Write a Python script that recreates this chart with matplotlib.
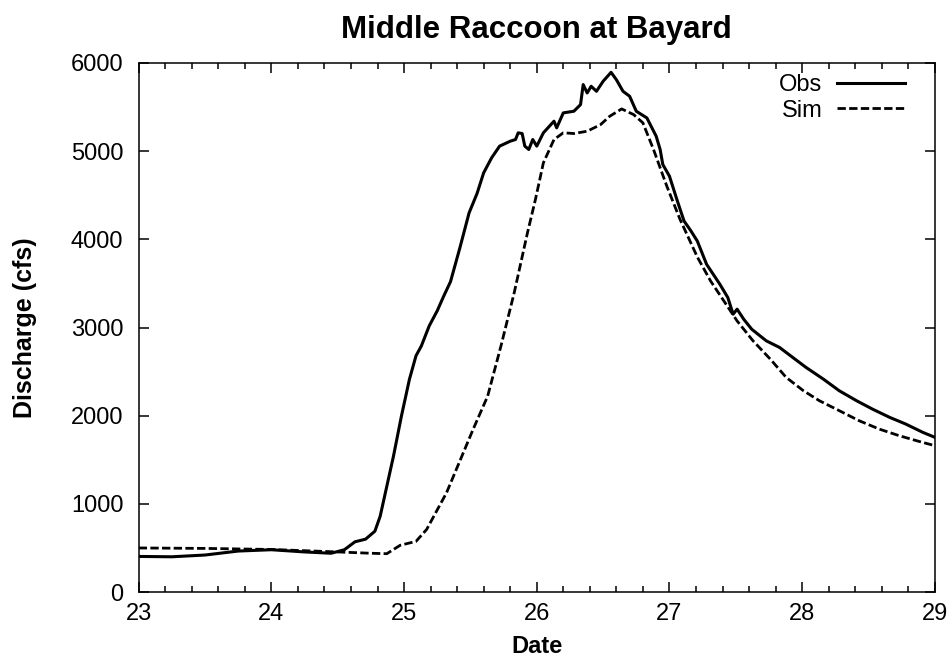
import numpy as np
import matplotlib
matplotlib.use("Agg")
import matplotlib.pyplot as plt
from matplotlib.ticker import MultipleLocator

plt.rcParams["font.family"] = ["Liberation Sans", "DejaVu Sans"]

# observed discharge (day of month, cfs)
obs_day = [23.0, 23.25, 23.5, 23.75, 24.0, 24.25, 24.45, 24.55, 24.63, 24.71,
           24.78, 24.82, 24.87, 24.92, 24.98, 25.04, 25.09, 25.13, 25.19, 25.25,
           25.30, 25.35, 25.42, 25.49, 25.55, 25.60, 25.66, 25.72, 25.80, 25.84,
           25.86, 25.89, 25.91, 25.94, 25.97, 26.0, 26.05, 26.13, 26.15, 26.20,
           26.28, 26.33, 26.35, 26.38, 26.41, 26.45, 26.50, 26.56, 26.60, 26.65,
           26.70, 26.75, 26.83, 26.90, 26.93, 26.95, 27.0, 27.06, 27.11, 27.16,
           27.21, 27.28, 27.38, 27.44, 27.48, 27.51, 27.56, 27.62, 27.73, 27.83,
           27.93, 28.03, 28.16, 28.28, 28.41, 28.53, 28.66, 28.78, 28.91, 29.0]
obs_q = [404, 400, 420, 465, 480, 455, 440, 480, 570, 600,
         690, 860, 1200, 1540, 1995, 2410, 2680, 2790, 3020, 3190,
         3360, 3520, 3900, 4300, 4520, 4755, 4925, 5057, 5113, 5132,
         5208, 5200, 5057, 5019, 5132, 5057, 5208, 5340, 5264, 5434,
         5453, 5528, 5755, 5660, 5736, 5679, 5792, 5894, 5811, 5679,
         5623, 5453, 5377, 5170, 5019, 4849, 4717, 4434, 4208, 4100,
         3981, 3717, 3491, 3340, 3151, 3208, 3094, 2981, 2849, 2774,
         2660, 2547, 2415, 2283, 2170, 2075, 1981, 1906, 1811, 1755]

# simulated discharge
sim_day = [23.0, 23.5, 24.0, 24.5, 24.75, 24.87, 24.97, 25.09, 25.17, 25.32,
           25.52, 25.63, 25.73, 25.83, 25.93, 25.99, 26.05, 26.13, 26.20, 26.28,
           26.38, 26.48, 26.55, 26.64, 26.73, 26.80, 26.88, 26.98, 27.08, 27.21,
           27.31, 27.41, 27.51, 27.63, 27.76, 27.88, 28.01, 28.13, 28.28, 28.43,
           28.58, 28.73, 28.88, 29.0]
sim_q = [500, 495, 483, 455, 440, 435, 530, 575, 710, 1126,
         1844, 2222, 2789, 3394, 4074, 4452, 4868, 5132, 5208, 5200,
         5226, 5300, 5396, 5479, 5415, 5321, 5019, 4604, 4226, 3800,
         3528, 3302, 3075, 2849, 2642, 2434, 2283, 2170, 2057, 1943,
         1849, 1774, 1709, 1660]

fig = plt.figure(figsize=(9.5, 6.63), dpi=100)
ax = fig.add_axes([0.146, 0.107, 0.838, 0.798])

ax.plot(obs_day, obs_q, color="black", lw=2.2, label="Obs")
ax.plot(sim_day, sim_q, color="black", lw=2.0, dashes=(3, 1.2), label="Sim")

ax.set_xlim(23, 29)
ax.set_ylim(0, 6000)
ax.xaxis.set_major_locator(MultipleLocator(1))
ax.xaxis.set_minor_locator(MultipleLocator(0.2))
ax.yaxis.set_major_locator(MultipleLocator(1000))

ax.tick_params(which="both", direction="in", top=True, right=True, labelsize=17)
ax.tick_params(axis="x", pad=8)
ax.tick_params(axis="y", pad=11)
ax.tick_params(which="major", length=7, width=1.1)
ax.tick_params(which="minor", length=4, width=1.1)
for s in ax.spines.values():
    s.set_linewidth(1.1)

ax.set_title("Middle Raccoon at Bayard", fontsize=22.5, fontweight="bold", pad=18)
ax.set_xlabel("Date", fontsize=17, fontweight="bold", labelpad=7)
ax.set_ylabel("Discharge (cfs)", fontsize=18, fontweight="bold", labelpad=24)

ax.legend(loc="upper right", bbox_to_anchor=(0.962, 0.979), frameon=False,
          markerfirst=False, fontsize=17, handlelength=2.84, handletextpad=0.64,
          labelspacing=0.15, borderaxespad=0, borderpad=0)

plt.savefig("out.png", dpi=100)
plt.close()
